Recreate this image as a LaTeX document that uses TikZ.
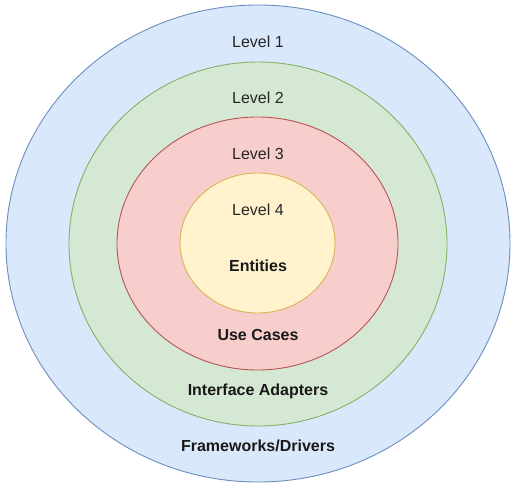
\documentclass[tikz,border=0pt]{standalone}
\usepackage{fontspec}
\setmainfont{Liberation Sans}
\usetikzlibrary{shapes.geometric}
\definecolor{bfill}{HTML}{DAE8FC}\definecolor{bdraw}{HTML}{6C8EBF}
\definecolor{gfill}{HTML}{D5E8D4}\definecolor{gdraw}{HTML}{82B366}
\definecolor{rfill}{HTML}{F8CECC}\definecolor{rdraw}{HTML}{B85450}
\definecolor{yfill}{HTML}{FFF2CC}\definecolor{ydraw}{HTML}{D6B656}
\tikzset{
  ring/.style={ellipse, inner sep=0pt, line width=0.9pt},
  lvl/.style={font=\fontsize{16}{18}\selectfont, text=black!85},
  nm/.style={font=\fontsize{16}{18}\selectfont\bfseries, text=black!90}
}
\begin{document}
\begin{tikzpicture}[x=1pt,y=-1pt]
\useasboundingbox[fill=white] (0,0) rectangle (516,487);
\node[ring, fill=bfill, draw=bdraw, minimum width=504pt, minimum height=477pt] (l1) at (258,243.5) {};
\node[ring, fill=gfill, draw=gdraw, minimum width=378pt, minimum height=364pt] (l2) at (258,244) {};
\node[ring, fill=rfill, draw=rdraw, minimum width=281pt, minimum height=253pt] (l3) at (257.5,243.5) {};
\node[ring, fill=yfill, draw=ydraw, minimum width=155pt, minimum height=140pt] (l4) at (257.5,243) {};
\node[lvl] (t1) at (258,42) {Level 1};
\node[lvl] (t2) at (258,98) {Level 2};
\node[lvl] (t3) at (258,154) {Level 3};
\node[lvl] (t4) at (258,210) {Level 4};
\node[nm] (n4) at (258,266) {Entities};
\node[nm] (n3) at (258,335) {Use Cases};
\node[nm] (n2) at (258,391) {Interface Adapters};
\node[nm] (n1) at (258,446) {Frameworks/Drivers};
\end{tikzpicture}
\end{document}
